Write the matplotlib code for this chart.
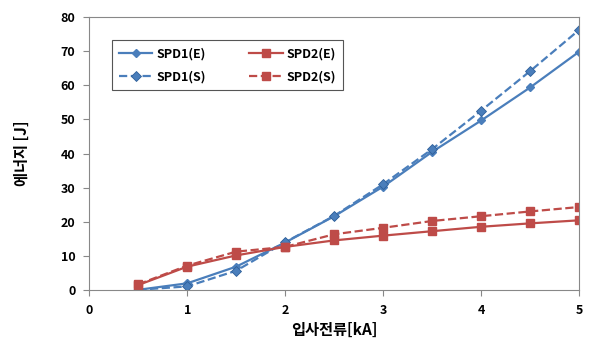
import matplotlib
matplotlib.use('Agg')
import matplotlib.pyplot as plt

plt.rcParams['font.family'] = ['Noto Sans CJK KR', 'DejaVu Sans']

# current (kA)
current = [0.5, 1.0, 1.5, 2.0, 2.5, 3.0, 3.5, 4.0, 4.5, 5.0]
# energy (J)
spd1_e = [0.0, 1.9, 6.8, 13.9, 21.6, 30.3, 40.5, 49.7, 59.4, 69.9]
spd1_s = [0.0, 1.0, 5.6, 14.0, 21.7, 31.0, 41.3, 52.6, 64.2, 76.3]
spd2_e = [1.4, 6.8, 10.1, 12.6, 14.5, 15.9, 17.2, 18.5, 19.5, 20.4]
spd2_s = [1.6, 7.1, 11.2, 12.6, 16.3, 18.2, 20.2, 21.6, 23.0, 24.3]

blue = '#4a7ebb'
red = '#be4b48'

fig = plt.figure(figsize=(5.91, 3.45), dpi=100)
ax = fig.add_axes([0.151, 0.160, 0.829, 0.790])

# order chosen so the 2-column legend reads E on top row, S on bottom row
ax.plot(current, spd1_e, color=blue, lw=1.6, marker='D', ms=4.5, label='SPD1(E)')
ax.plot(current, spd1_s, color=blue, lw=1.6, ls='--', marker='D', ms=5,
        markeredgecolor='#2e5f99', markeredgewidth=0.6, label='SPD1(S)')
ax.plot(current, spd2_e, color=red, lw=1.6, marker='s', ms=6, label='SPD2(E)')
ax.plot(current, spd2_s, color=red, lw=1.6, ls='--', marker='s', ms=6, label='SPD2(S)')

ax.set_xlim(0, 5)
ax.set_ylim(0, 80)
ax.set_xticks([0, 1, 2, 3, 4, 5])
ax.set_yticks(range(0, 81, 10))
ax.tick_params(labelsize=9, length=4, color='#888888', pad=6)
for lab in ax.get_xticklabels() + ax.get_yticklabels():
    lab.set_fontweight('bold')
for s in ax.spines.values():
    s.set_color('#888888')

ax.set_xlabel('입사전류[kA]', fontsize=11, fontweight='bold', labelpad=4)
ax.set_ylabel('에너지 [J]', fontsize=11, fontweight='bold', labelpad=22)

leg = ax.legend(ncol=2, loc='upper left', bbox_to_anchor=(0.046, 0.915),
                prop={'weight': 'bold', 'size': 9}, fancybox=False,
                edgecolor='#555555', framealpha=1, handlelength=2.7,
                handletextpad=0.3, columnspacing=3.5, borderpad=0.55,
                labelspacing=0.8, borderaxespad=0)
leg.get_frame().set_linewidth(0.8)

fig.savefig('out.png', dpi=100)
